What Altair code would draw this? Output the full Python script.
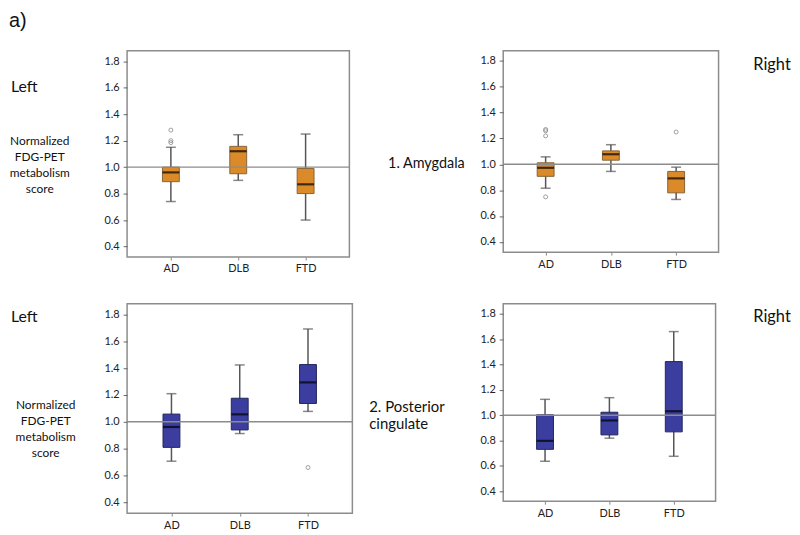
import altair as alt
import pandas as pd

groups = ["AD", "DLB", "FTD"]

# 1. Amygdala, left
amy_left_low = [0.74, 0.90, 0.60]
amy_left_q1 = [0.89, 0.95, 0.80]
amy_left_med = [0.96, 1.12, 0.87]
amy_left_q3 = [1.00, 1.157, 0.99]
amy_left_high = [1.15, 1.245, 1.25]
amy_left_out_group = ["AD", "AD", "AD"]
amy_left_out_value = [1.28, 1.20, 1.185]

# 1. Amygdala, right
amy_right_low = [0.815, 0.945, 0.728]
amy_right_q1 = [0.907, 1.032, 0.779]
amy_right_med = [0.973, 1.078, 0.891]
amy_right_q3 = [1.012, 1.104, 0.945]
amy_right_high = [1.058, 1.152, 0.978]
amy_right_out_group = ["AD", "AD", "AD", "AD", "FTD"]
amy_right_out_value = [1.27, 1.26, 1.22, 0.748, 1.25]

# 2. Posterior cingulate, left
pc_left_low = [0.707, 0.913, 1.078]
pc_left_q1 = [0.81, 0.94, 1.137]
pc_left_med = [0.962, 1.056, 1.294]
pc_left_q3 = [1.058, 1.176, 1.427]
pc_left_high = [1.21, 1.424, 1.692]
pc_left_out_group = ["FTD"]
pc_left_out_value = [0.66]

# 2. Posterior cingulate, right
pc_right_low = [0.636, 0.818, 0.675]
pc_right_q1 = [0.73, 0.844, 0.868]
pc_right_med = [0.797, 0.958, 1.031]
pc_right_q3 = [1.003, 1.023, 1.423]
pc_right_high = [1.125, 1.138, 1.66]
pc_right_out_group = []
pc_right_out_value = []

y_ticks = [0.4, 0.6, 0.8, 1.0, 1.2, 1.4, 1.6, 1.8]
reference_value = [1.0]

panel_label = "a)"
side_left = "Left"
side_right = "Right"
y_label = ["Normalized", "FDG-PET", "metabolism", "score"]
region1 = "1. Amygdala"
region2 = ["2. Posterior", "cingulate"]

ORANGE = "#DB8A2A"
ORANGE_EDGE = "#86653a"
BLUE = "#3B3E9F"
BLUE_EDGE = "#23265e"
FONT = "Lato"

yscale = alt.Scale(domain=[0.32, 1.88], nice=False, zero=False)
yaxis = alt.Axis(values=y_ticks, format=".1f", title=None, grid=False, domain=False,
                 labelFont=FONT, labelFontSize=11, labelColor="#222", tickColor="#666",
                 tickSize=4, labelPadding=4)
xaxis = alt.Axis(title=None, labelAngle=0, grid=False, domain=False, labelFont=FONT,
                 labelFontSize=11, labelColor="#222", tickColor="#888", tickSize=3,
                 labelPadding=3)
xscale = alt.Scale(type="point", padding=0.65, domain=groups)


def X(f):
    return alt.X(f, scale=xscale, axis=xaxis)


def Y(f):
    return alt.Y(f, scale=yscale, axis=yaxis)


def text_layer(txt, x, y, size, align="left", baseline="middle", font=FONT, line_height=None):
    kw = dict(align=align, baseline=baseline, font=font, fontSize=size, color="#111")
    if line_height is not None:
        kw["lineHeight"] = line_height
    return alt.Chart(pd.DataFrame({"k": [0]})).mark_text(**kw).encode(
        x=alt.value(x), y=alt.value(y), text=alt.value(txt))


def panel(low, q1, med, q3, high, og, ov, fill, edge, w, h, texts):
    df = pd.DataFrame({"group": groups, "low": low, "q1": q1, "med": med, "q3": q3, "high": high})
    base = alt.Chart(df)
    whisk = base.mark_rule(color="#555", strokeWidth=1.5).encode(x=X("group:N"), y=Y("low:Q"), y2="high:Q")
    cap_lo = base.mark_tick(color="#555", thickness=1.5, size=10).encode(x=X("group:N"), y=Y("low:Q"))
    cap_hi = base.mark_tick(color="#555", thickness=1.5, size=10).encode(x=X("group:N"), y=Y("high:Q"))
    box = base.mark_bar(size=17, fill=fill, stroke=edge, strokeWidth=1).encode(
        x=X("group:N"), y=Y("q1:Q"), y2="q3:Q")
    ref = alt.Chart(pd.DataFrame({"v": reference_value})).mark_rule(
        color="#8c8c8c", strokeWidth=1.5).encode(y=Y("v:Q"))
    median = base.mark_tick(color="#000", thickness=2.2, size=17).encode(x=X("group:N"), y=Y("med:Q"))
    layers = [whisk, cap_lo, cap_hi, box, ref, median]
    if len(ov) > 0:
        odf = pd.DataFrame({"group": og, "value": ov})
        layers.append(alt.Chart(odf).mark_point(shape="circle", size=16, filled=False,
                                                 color="#777", strokeWidth=1).encode(
            x=X("group:N"), y=Y("value:Q")))
    layers += texts
    return alt.layer(*layers).properties(width=w, height=h)


tl = panel(amy_left_low, amy_left_q1, amy_left_med, amy_left_q3, amy_left_high,
           amy_left_out_group, amy_left_out_value, ORANGE, ORANGE_EDGE, 224, 208,
           [text_layer(panel_label, -119, -40, 20, baseline="top", font="Liberation Sans"),
            text_layer(side_left, -117, 37, 16),
            text_layer(y_label, -88, 86, 12, align="center", baseline="top", line_height=16),
            text_layer(region1, 263, 114, 14.5)])
tr = panel(amy_right_low, amy_right_q1, amy_right_med, amy_right_q3, amy_right_high,
           amy_right_out_group, amy_right_out_value, ORANGE, ORANGE_EDGE, 217, 203,
           [text_layer(side_right, 252, 14, 16.5)])
bl = panel(pc_left_low, pc_left_q1, pc_left_med, pc_left_q3, pc_left_high,
           pc_left_out_group, pc_left_out_value, BLUE, BLUE_EDGE, 227, 211,
           [text_layer(side_left, -117, 13, 16),
            text_layer(y_label, -82, 97, 12, align="center", baseline="top", line_height=16),
            text_layer(region2, 244, 97, 15, baseline="top", line_height=17)])
br = panel(pc_right_low, pc_right_q1, pc_right_med, pc_right_q3, pc_right_high,
           pc_right_out_group, pc_right_out_value, BLUE, BLUE_EDGE, 214, 199,
           [text_layer(side_right, 252, 13, 16.5)])

chart = alt.concat(tl, tr, bl, br, columns=2, spacing={"row": 47, "column": 152},
                   bounds="flush").properties(padding=0, background="white").configure_view(
    stroke="#8c8c8c", strokeWidth=1.5)

chart.save("out.html", embed_options={"renderer": "svg", "actions": False})
